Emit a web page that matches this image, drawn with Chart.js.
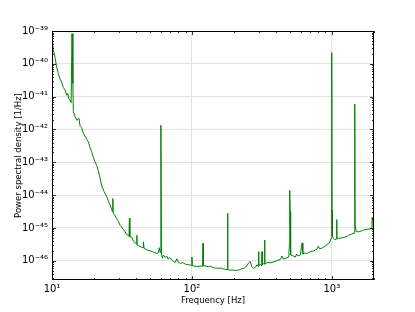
<!DOCTYPE html>
<html>
<head>
<meta charset="utf-8">
<script src="https://cdn.jsdelivr.net/npm/chart.js@4.4.0/dist/chart.umd.min.js"></script>
<style>
  html, body { margin: 0; padding: 0; background: #fff; }
  #wrap { width: 415px; height: 312px; }
</style>
</head>
<body>
<div id="wrap"><canvas id="psd" width="415" height="312"></canvas></div>
<script>
// frequency [Hz] and power spectral density [1/Hz]
const freq = [
  10.0, 10.1, 10.2, 10.5, 10.8, 11.1, 11.4, 11.7, 12.05, 12.4,
  12.74, 13.0, 13.1, 13.45, 13.7, 13.9, 14.1, 14.21, 14.6, 15.03,
  15.6, 15.87, 16.3, 16.75, 17.2, 17.72, 18.2, 18.71, 19.2, 19.75,
  20.3, 20.89, 21.4, 22.06, 22.69, 23.6, 24.64, 25.3, 26.01, 26.6,
  27.0, 27.2, 27.4, 28.2, 29.05, 29.8, 30.68, 31.5, 32.39, 33.3,
  34.25, 35.5, 35.75, 36.0, 37.2, 38.19, 39.3, 40.2, 40.4, 40.6,
  42.65, 44.8, 45.0, 45.5, 47.0, 48.5, 50.3, 52.0, 54.0, 56.2,
  57.5, 58.5, 59.3, 60.0, 60.6, 61.5, 62.5, 64.4, 66.0, 67.5,
  69.5, 71.9, 73.85, 76.0, 78.0, 80.2, 83.0, 86.0, 89.6, 92.1,
  95.0, 99.5, 100.0, 100.5, 105, 110, 114.7, 119.5, 120, 120.5,
  126, 131, 135, 139, 145, 150, 155, 160, 165, 170,
  175, 179.5, 180, 180.5, 186, 193, 198, 205, 215, 222,
  228, 234, 241, 248, 255, 261, 268, 276, 284, 292,
  298.5, 299.7, 301, 309, 315.5, 317, 318.5, 327, 330, 331,
  332, 345, 364, 380, 400, 429, 440, 452, 479, 492,
  497, 499, 501, 503, 505, 510, 530, 549, 560, 575,
  596, 607, 613, 620, 640, 666, 700, 740, 785, 800,
  820, 860, 900, 926, 960, 978, 992, 996, 1000, 1003,
  1008, 1020, 1050, 1080, 1084, 1088, 1120, 1200, 1290, 1320,
  1380, 1440, 1455, 1460, 1465, 1490, 1550, 1650, 1690, 1840,
  1920, 1935, 1960, 1980, 2000
];
const psd = [
  7.6e-40, 4.5e-40, 2.8e-40, 1.6e-40, 7.9e-41, 5.0e-41, 3.5e-41, 2.8e-41, 1.9e-41, 1.6e-41,
  1.1e-41, 1.26e-41, 8.9e-42, 7.9e-42, 6.6e-42, 8.3e-40, 2.5e-41, 3.5e-42, 2.5e-42, 1.9e-42,
  2.2e-42, 1.26e-42, 1.12e-42, 7.6e-43, 6.3e-43, 5.0e-43, 4.2e-43, 2.8e-43, 2.1e-43, 1.4e-43,
  1.05e-43, 7.9e-44, 5.6e-44, 3.3e-44, 1.9e-44, 1.26e-44, 8.9e-45, 6.6e-45, 5.0e-45, 3.8e-45,
  3.2e-45, 7.9e-45, 2.8e-45, 2.4e-45, 1.9e-45, 1.6e-45, 1.2e-45, 1.05e-45, 8.9e-46, 7.6e-46,
  6.3e-46, 5.6e-46, 2.0e-45, 5.4e-46, 5.2e-46, 4.0e-46, 3.5e-46, 3.2e-46, 6.0e-46, 3.0e-46,
  2.7e-46, 2.5e-46, 3.8e-46, 2.4e-46, 2.2e-46, 2.1e-46, 2.0e-46, 1.9e-46, 1.8e-46, 1.66e-46,
  1.74e-46, 2.5e-46, 1.8e-46, 1.35e-42, 1.6e-46, 1.2e-46, 1.5e-46, 1.26e-46, 1.4e-46, 1.12e-46,
  1.26e-46, 1.05e-46, 9.5e-47, 8.9e-47, 1.15e-46, 8.9e-47, 8.3e-47, 8.9e-47, 7.9e-47, 7.6e-47,
  7.6e-47, 7.2e-47, 1.3e-46, 7.1e-47, 6.9e-47, 6.6e-47, 6.9e-47, 6.8e-47, 3.4e-46, 7.1e-47,
  6.9e-47, 6.6e-47, 6.9e-47, 6.5e-47, 6.0e-47, 6.0e-47, 5.9e-47, 6.0e-47, 5.8e-47, 5.6e-47,
  5.5e-47, 5.4e-47, 2.8e-45, 5.4e-47, 5.2e-47, 5.2e-47, 5.2e-47, 5.1e-47, 5.2e-47, 5.4e-47,
  5.8e-47, 5.9e-47, 6.3e-47, 7.4e-47, 8.7e-47, 9.5e-47, 6.6e-47, 5.9e-47, 6.3e-47, 7.6e-47,
  6.6e-47, 1.9e-46, 7.1e-47, 7.9e-47, 6.9e-47, 1.9e-46, 7.6e-47, 8.3e-47, 8.0e-47, 4.3e-46,
  7.9e-47, 8.9e-47, 8.7e-47, 9.1e-47, 1.0e-46, 1.1e-46, 1.4e-46, 1.12e-46, 1.26e-46, 1.3e-46,
  3.2e-46, 5.0e-45, 1.4e-44, 3.2e-45, 1.0e-45, 1.5e-46, 1.4e-46, 1.3e-46, 1.6e-46, 1.4e-46,
  1.5e-46, 2.8e-46, 3.5e-46, 1.6e-46, 1.74e-46, 1.66e-46, 1.9e-46, 2.0e-46, 2.3e-46, 2.8e-46,
  2.3e-46, 2.5e-46, 2.8e-46, 3.2e-46, 3.5e-46, 4.2e-46, 5.0e-46, 1.0e-44, 2.2e-40, 3.5e-45,
  6.3e-46, 5.0e-46, 4.4e-46, 4.6e-46, 1.8e-45, 4.7e-46, 4.8e-46, 5.1e-46, 5.6e-46, 6.0e-46,
  6.5e-46, 6.9e-46, 1.4e-45, 6.0e-42, 1.26e-45, 7.9e-46, 7.6e-46, 8.3e-46, 8.7e-46, 9.3e-46,
  9.5e-46, 2.1e-45, 2.0e-45, 1.05e-45, 1.07e-45
];

const xTicks = [10, 100, 1000];
const yTicks = [1e-46, 1e-45, 1e-44, 1e-43, 1e-42, 1e-41, 1e-40, 1e-39];
const supers = {'-': '\u207B', '0': '\u2070', '1': '\u00B9', '2': '\u00B2', '3': '\u00B3',
  '4': '\u2074', '5': '\u2075', '6': '\u2076', '7': '\u2077', '8': '\u2078', '9': '\u2079'};

function powLabel(v) {
  const e = String(Math.round(Math.log10(v)));
  return '10' + e.split('').map(c => supers[c]).join('');
}

// matplotlib style frame with inward ticks on all four sides
const frameTicks = {
  id: 'frameTicks',
  afterDraw(chart) {
    const {ctx, chartArea: a, scales: {x, y}} = chart;
    ctx.save();
    ctx.strokeStyle = '#000';
    ctx.lineWidth = 1;
    ctx.strokeRect(a.left + 0.5, a.top + 0.5, a.right - a.left - 1, a.bottom - a.top - 1);
    ctx.lineWidth = 0.8;
    ctx.beginPath();
    for (let d = 10; d <= 1000; d *= 10) {
      for (let m = 1; m < 10; m++) {
        const v = d * m;
        if (v < x.min || v > x.max) continue;
        const px = Math.round(x.getPixelForValue(v)) + 0.5;
        const len = m === 1 ? 4 : 2;
        ctx.moveTo(px, a.bottom); ctx.lineTo(px, a.bottom - len);
        ctx.moveTo(px, a.top); ctx.lineTo(px, a.top + len);
      }
    }
    for (let d = 1e-47; d <= 1e-39; d *= 10) {
      for (let m = 1; m < 10; m++) {
        const v = d * m;
        if (v < y.min || v > y.max * 1.0001) continue;
        const py = Math.round(y.getPixelForValue(v)) + 0.5;
        const len = m === 1 ? 4 : 2;
        ctx.moveTo(a.left, py); ctx.lineTo(a.left + len, py);
        ctx.moveTo(a.right, py); ctx.lineTo(a.right - len, py);
      }
    }
    ctx.stroke();
    ctx.restore();
  }
};

const tickFont = {family: 'DejaVu Sans', size: 10};
const titleFont = {family: 'DejaVu Sans', size: 8.5};

new Chart(document.getElementById('psd'), {
  type: 'line',
  data: {
    datasets: [{
      data: freq.map((f, i) => ({x: f, y: psd[i]})),
      borderColor: '#008000',
      borderWidth: 1,
      pointRadius: 0,
      tension: 0,
      fill: false
    }]
  },
  options: {
    responsive: false,
    animation: false,
    layout: {padding: {left: 0, top: 31, right: 41, bottom: 0}},
    plugins: {legend: {display: false}, tooltip: {enabled: false}},
    scales: {
      x: {
        type: 'logarithmic',
        min: 10,
        max: 2000,
        afterBuildTicks: s => { s.ticks = xTicks.map(v => ({value: v})); },
        afterFit: s => { s.height = 32; },
        grid: {color: '#e2e2e2', drawTicks: false},
        border: {display: false},
        ticks: {
          callback: v => powLabel(v),
          font: tickFont, color: '#000', padding: 3,
          autoSkip: false, maxRotation: 0
        },
        title: {display: true, text: 'Frequency [Hz]', font: titleFont, color: '#000',
          padding: {top: 0, bottom: 6}}
      },
      y: {
        type: 'logarithmic',
        min: 2.6e-47,
        max: 1e-39,
        afterBuildTicks: s => { s.ticks = yTicks.map(v => ({value: v})); },
        afterFit: s => { s.width = 52; },
        grid: {color: '#e2e2e2', drawTicks: false},
        border: {display: false},
        ticks: {
          callback: v => powLabel(v),
          font: tickFont, color: '#000', padding: 4,
          autoSkip: false
        },
        title: {display: true, text: 'Power spectral density [1/Hz]', font: titleFont, color: '#000',
          padding: {top: 14, bottom: 0}}
      }
    }
  },
  plugins: [frameTicks]
});
</script>
</body>
</html>
